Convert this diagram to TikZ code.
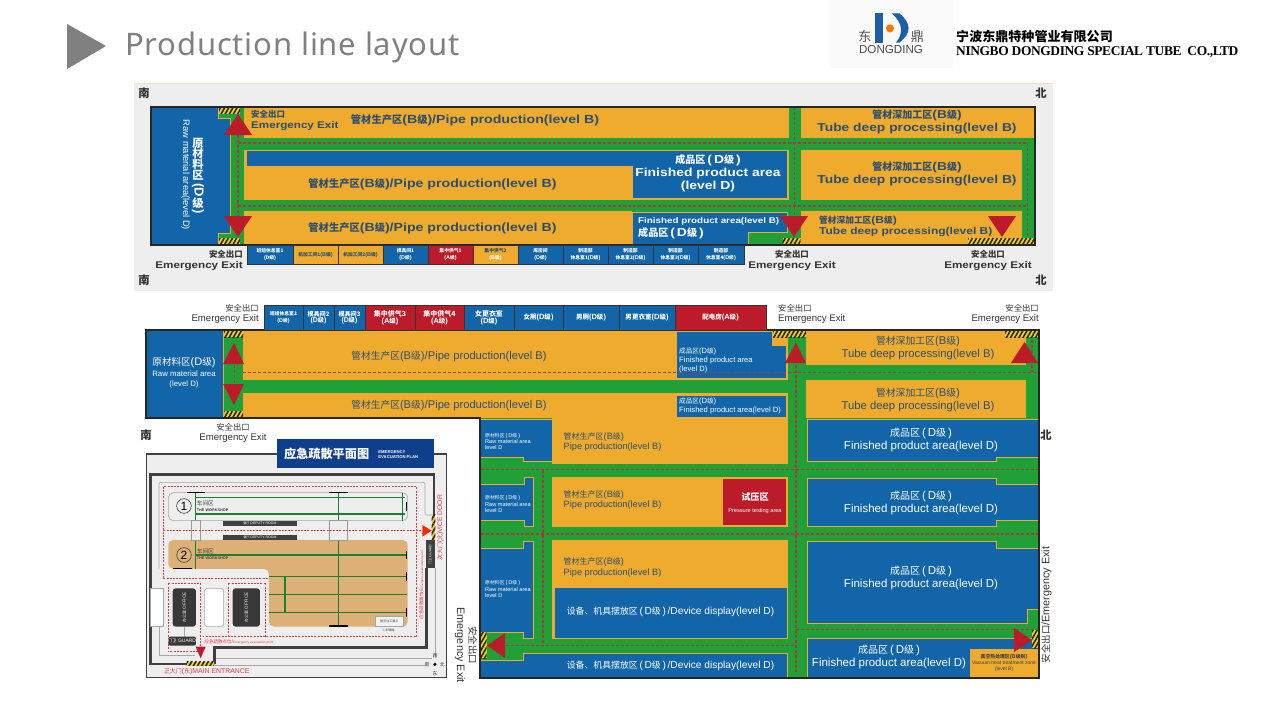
\documentclass[tikz,border=0pt]{standalone}
\usepackage{fontspec}
\usetikzlibrary{calc,patterns.meta}
\setmainfont{Liberation Sans}
\newfontfamily\cjk[Scale=0.87]{Noto Sans CJK SC}
\newfontfamily\widefont[FakeStretch=1.2]{Liberation Sans}
\newfontfamily\titlefont[LetterSpace=2.6]{Noto Sans}
\newfontfamily\coserif[LetterSpace=-3]{Liberation Serif}
\definecolor{zblue}{HTML}{1265A8}
\definecolor{zorange}{HTML}{EEAB2E}
\definecolor{zgreen}{HTML}{22A038}
\definecolor{zred}{HTML}{BC1C2A}
\definecolor{escred}{HTML}{B0343A}
\definecolor{panelgray}{HTML}{EEEEEE}
\definecolor{labeldark}{HTML}{2A4F72}
\definecolor{hazyellow}{HTML}{F2D21E}
\definecolor{planblue}{HTML}{0F3F8C}
\definecolor{plantan}{HTML}{DDB077}
\definecolor{planred}{HTML}{E0404A}
\definecolor{logoblue}{HTML}{1C5FA8}
\newcommand{\fs}[1]{\fontsize{#1}{1.12\dimexpr #1pt\relax}\selectfont}
\newcommand{\stackfont}{\setlength{\lineskiplimit}{-30pt}\fontsize{13}{10.6}\selectfont\bfseries}
\newcommand{\Zh}[1]{{\cjk #1}}
\newcommand{\PipeB}{\Zh{管材生产区}(B\Zh{级})/Pipe production(level B)}
\newcommand{\PipeTwo}{\Zh{管材生产区}(B\Zh{级})\\Pipe production(level B)}
\newcommand{\TubeB}{\Zh{管材深加工区}(B\Zh{级})\\Tube deep processing(level B)}
\newcommand{\ExitTxt}{\Zh{安全出口}\\Emergency Exit}
\newcommand{\FinD}{\Zh{成品区}\,(\,D\Zh{级}\,)\\Finished product area(level D)}
\newcommand{\RawS}{\Zh{原材料区}\,(\,D\Zh{级}\,)\\Raw material area\\level D}
\newcommand{\DevD}{\Zh{设备、机具摆放区}\,(\,D\Zh{级}\,)\,/Device display(level D)}
% room with its label
\newcommand{\Room}[5]{\draw[#4] (#2) rectangle (#3); \node[roomtxt] (#1) at ($(#2)!.5!(#3)$) {#5};}
\tikzset{
  zoneB/.style={fill=zorange},
  zoneD/.style={fill=zblue,draw=zorange,line width=0.9pt},
  roomD/.style={fill=zblue,draw=black!80,line width=0.8pt},
  roomB/.style={fill=zorange,draw=black!80,line width=0.8pt},
  roomA/.style={fill=zred,draw=black!80,line width=0.8pt},
  walk/.style={fill=zgreen},
  escape/.style={draw=escred,line width=1.2pt,dash pattern=on 3pt off 2pt},
  exittri/.style={fill=zred},
  hazard/.style={fill=hazyellow,postaction={pattern={Lines[angle=60,distance=3.6pt,line width=1.6pt]},pattern color=black!85}},
  frameline/.style={draw=black!85,line width=1.3pt},
  roomtxt/.style={inner sep=0,align=center,text=white,font=\fs{5.5}\bfseries},
  txtB/.style={inner sep=0,align=center,text=labeldark},
  txtD/.style={inner sep=0,align=center,text=white},
  txtK/.style={inner sep=0,align=center,text=black!80},
  planred txt/.style={inner sep=0,text=planred},
  wallk/.style={draw=black!75,line width=2.6pt},
  greenline/.style={draw=zgreen!80!black,line width=1.3pt},
  capk/.style={draw=black,line width=1.1pt},
  planroute/.style={draw=planred,line width=0.8pt,dash pattern=on 2pt off 1.2pt},
}
\begin{document}
\begin{tikzpicture}[x=1pt,y=-1pt]
  \useasboundingbox (0,0) rectangle (1280,720);
  % heading
  \fill[black!50] (67,24) -- (106,46) -- (67,69) -- cycle;
  \node[inner sep=0,anchor=west,text=black!50,font=\fs{31}\titlefont] (title) at (125,47) {Production line layout};
  \fill[black!2] (830,0) rectangle (953,68);
  \begin{scope}[shift={(820,0)},x=0.3333pt,y=-0.3333pt]
    \fill[logoblue] (165,40) rectangle (190,128);
    \fill[orange!90!red] (210,85) circle (12);
    \fill[logoblue] (215,40) -- (238,40) .. controls (275,70) and (275,100) .. (238,128) -- (228,128) .. controls (250,100) and (250,70) .. (215,40) -- cycle;
    \node[inner sep=0,text=black!70,font=\fs{15}] (logodong) at (135,110) {\Zh{东}};
    \node[inner sep=0,text=black!70,font=\fs{15}] (logoding) at (292,110) {\Zh{鼎}};
    \node[inner sep=0,text=black!70,font=\fs{11.6}] (logoname) at (213,150) {DONGDING};
  \end{scope}
  \node[inner sep=0,anchor=west,font=\fs{15}\bfseries] (cocn) at (956,36.5) {\Zh{宁波东鼎特种管业有限公司}};
  \node[inner sep=0,anchor=west,font=\fs{13.45}\bfseries\coserif] (coen) at (956,52.5) {NINGBO DONGDING SPECIAL TUBE\ \ CO.,LTD};

  % upper plan
  \fill[panelgray] (134,84) rectangle (1053,291);
  \draw[orange!25,line width=0.6pt] (134,83.5) -- (1053,83.5);
  \fill[walk] (151,107) rectangle (1035,245);
  \draw[zoneD] (151,107) -- (218,107) -- (218,118) -- (230.5,118) -- (230.5,233) -- (218,233) -- (218,245) -- (151,245) -- cycle;
  \fill[zoneB] (244,107) rectangle (789,137.5);
  \fill[zoneB] (244,149.5) rectangle (789,200);
  \fill[zoneB] (244,211) rectangle (632,245);
  \fill[zoneB] (801,107) rectangle (1035,137.5);
  \fill[zoneB] (801,149.5) rectangle (1022,200);
  \fill[zoneB] (801,211) rectangle (1022,245);
  \fill[walk] (789,107) rectangle (801,245);
  \draw[zoneD] (246,150) -- (787.5,150) -- (787.5,198.5) -- (632,198.5) -- (632,166) -- (246,166) -- cycle;
  \draw[zoneD] (632,212) -- (787.5,212) -- (787.5,232.5) -- (748,232.5) -- (748,245) -- (632,245) -- cycle;
  \draw[escape] (238,143) -- (1027,143);
  \draw[escape] (238,206) -- (1027,206);
  \draw[escape] (238,120) -- (238,235);
  \draw[escape] (794.5,107) -- (794.5,235);
  \draw[escape] (1027.5,143) -- (1027.5,240);
  \fill[hazard] (219,107) rectangle (240,113.5);
  \fill[hazard] (219,238) rectangle (240,245);
  \fill[hazard] (782.5,238) rectangle (800.5,245);
  \fill[hazard] (968,238) rectangle (1035,245);
  \fill[exittri] (238,114) -- (252,135) -- (224,135) -- cycle;
  \fill[exittri] (224,216) -- (252,216) -- (238,237) -- cycle;
  \fill[exittri] (780,216) -- (808,216) -- (794,237) -- cycle;
  \fill[exittri] (988,216) -- (1016,216) -- (1002,237) -- cycle;
  \draw[frameline] (151,107) rectangle (1035,245);
  \Room{ua}{247,245}{293,264}{roomD}{\Zh{班组休息室1}\\(\Zh{D级})}
  \Room{ub}{293,245}{338,264}{roomB}{\color{labeldark}\Zh{机加工间1}(B\Zh{级})}
  \Room{uc}{338,245}{383,264}{roomB}{\color{labeldark}\Zh{机加工间2}(B\Zh{级})}
  \Room{ud}{383,245}{428,264}{roomD}{\Zh{模具间1}\\(D\Zh{级})}
  \Room{ue}{428,245}{473,264}{roomA}{\Zh{集中供气1}\\(A\Zh{级})}
  \Room{uf}{473,245}{518,264}{roomB}{\color{labeldark}\Zh{集中供气2}\\(B\Zh{级})}
  \Room{ug}{518,245}{563,264}{roomD}{\Zh{库房间}\\(D\Zh{级})}
  \Room{uh}{563,245}{608,264}{roomD}{\Zh{制造部}\\\Zh{休息室1}(D\Zh{级})}
  \Room{ui}{608,245}{653,264}{roomD}{\Zh{制造部}\\\Zh{休息室2}(D\Zh{级})}
  \Room{uj}{653,245}{698,264}{roomD}{\Zh{制造部}\\\Zh{休息室3}(D\Zh{级})}
  \Room{uk}{698,245}{744,264}{roomD}{\Zh{制造部}\\\Zh{休息室4}(D\Zh{级})}
  \node[txtK,font=\fs{13}\bfseries] (us1) at (144,93) {\Zh{南}};
  \node[txtK,font=\fs{13}\bfseries] (us2) at (144,280) {\Zh{南}};
  \node[txtK,font=\fs{13}\bfseries] (un1) at (1041,93) {\Zh{北}};
  \node[txtK,font=\fs{13}\bfseries] (un2) at (1041,280) {\Zh{北}};
  \node[txtB,align=left,anchor=west,font=\fs{9.7}\widefont\bfseries] (ux1) at (251,120) {\ExitTxt};
  \node[txtK,align=right,anchor=east,font=\fs{9.7}\widefont\bfseries] (ux2) at (243,260) {\ExitTxt};
  \node[txtK,font=\fs{9.7}\widefont\bfseries] (ux3) at (792,260) {\ExitTxt};
  \node[txtK,font=\fs{9.7}\widefont\bfseries] (ux4) at (988,260) {\ExitTxt};
  \node[txtB,font=\fs{11.8}\widefont\bfseries] (up1) at (475,120.5) {\PipeB};
  \node[txtB,font=\fs{11.8}\widefont\bfseries] (up2) at (432.5,184.5) {\PipeB};
  \node[txtB,font=\fs{11.8}\widefont\bfseries] (up3) at (432.5,228.5) {\PipeB};
  \node[txtD,font=\fs{11.6}\widefont\bfseries] (uf1) at (708,173) {\Zh{成品区}\,(\,D\Zh{级}\,)\\Finished product area\\(level D)};
  \node[txtD,align=left,anchor=west,font=\fs{8.2}\widefont\bfseries] (uf2) at (638,221.5) {Finished product area(level B)};
  \node[txtD,align=left,anchor=west,font=\fs{11.6}\widefont\bfseries] (uf3) at (638,233) {\Zh{成品区}\,(\,D\Zh{级}\,)};
  \node[txtB,font=\fs{11.5}\widefont\bfseries] (ut1) at (917,122) {\TubeB};
  \node[txtB,font=\fs{11.5}\widefont\bfseries] (ut2) at (917,174) {\TubeB};
  \node[txtB,align=left,anchor=west,font=\fs{10}\widefont\bfseries] (ut3) at (819,226) {\Zh{管材深加工区}(B\Zh{级})\\Tube deep processing(level B)};
  \node[txtD,rotate=-90,font=\fs{9.3}] (ur1) at (185.5,175) {Raw material area(level D)};
  \node[txtD,font=\stackfont] (ur2) at (198,159) {\Zh{原}\\\Zh{材}\\\Zh{料}\\\Zh{区}};
  \node[txtD,rotate=-90,font=\stackfont] (ur3) at (198,190.5) {(D};
  \node[txtD,font=\stackfont] (ur4) at (198,203) {\Zh{级}};
  \node[txtD,rotate=-90,font=\stackfont] (ur5) at (198,211.5) {)};

  % lower plan
  \fill[walk] (146,330) -- (1039,330) -- (1039,678) -- (480,678) -- (480,418) -- (146,418) -- cycle;
  \draw[zoneD] (146,330) rectangle (223,418);
  \fill[zoneB] (243,331) rectangle (788,380);
  \fill[zoneB] (243,393) rectangle (788,418);
  \fill[zoneB] (552,418) rectangle (788,464);
  \fill[zoneB] (552,477) rectangle (788,527);
  \fill[zoneB] (552,540) rectangle (788,638.5);
  \draw[zoneD] (676,331) -- (772.5,331) -- (772.5,345) -- (786,345) -- (786,378) -- (676,378) -- cycle;
  \draw[zoneD] (676,395) rectangle (786,417);
  \fill[zoneB] (806,331) rectangle (1026,365);
  \fill[zoneB] (806,380) rectangle (1026,418);
  \draw[zoneD] (480,419.5) -- (552,419.5) -- (552,461) -- (523,461) -- (523,457) -- (480,457) -- cycle;
  \draw[zoneD] (480,484) -- (524,484) -- (524,477.5) -- (533.5,477.5) -- (533.5,526) -- (524,526) -- (524,520) -- (480,520) -- cycle;
  \draw[zoneD] (480,548) -- (523,548) -- (523,541.5) -- (533.5,541.5) -- (533.5,638) -- (523,638) -- (523,632) -- (480,632) -- cycle;
  \draw[zoneD] (480,660) -- (523,660) -- (523,653.5) -- (787,653.5) -- (787,678) -- (480,678) -- cycle;
  \fill[zred] (723,479) rectangle (786,525);
  \draw[zoneD] (554,587) rectangle (787,638);
  \draw[zoneD] (807,419) -- (1039,419) -- (1039,457) -- (996,457) -- (996,461) -- (807,461) -- cycle;
  \draw[zoneD] (807,478) -- (996,478) -- (996,484) -- (1039,484) -- (1039,520) -- (996,520) -- (996,526) -- (807,526) -- cycle;
  \draw[zoneD] (807,541) -- (996,541) -- (996,548) -- (1039,548) -- (1039,609) -- (1027,609) -- (1027,623) -- (807,623) -- cycle;
  \draw[zoneD] (807,638) -- (1039,638) -- (1039,678) -- (807,678) -- cycle;
  \fill[zoneB] (970,649) rectangle (1038,677);
  \draw[escape] (243,372.5) -- (1036,372.5);
  \draw[escape] (234.5,365) -- (234.5,385);
  \draw[escape] (796,365) -- (796,672);
  \draw[escape] (1032,340) -- (1032,372);
  \draw[escape] (481,469.5) -- (1038,469.5);
  \draw[escape] (481,534) -- (1038,534);
  \draw[escape] (543,469.5) -- (543,646);
  \draw[escape] (506,645.5) -- (796,645.5);
  \draw[escape] (796,629.5) -- (1036,629.5);
  \fill[hazard] (224,331) rectangle (243,337);
  \fill[hazard] (224,411) rectangle (243,417);
  \fill[hazard] (773,331) rectangle (806,337);
  \fill[hazard] (1005,331) rectangle (1038,337);
  \fill[hazard] (481,632) rectangle (486.5,658);
  \fill[hazard] (1032,630) rectangle (1038,648);
  \fill[exittri] (234,343) -- (244,364) -- (223,364) -- cycle;
  \fill[exittri] (223,384) -- (244,384) -- (234,405) -- cycle;
  \fill[exittri] (796,342.5) -- (806,363) -- (785,363) -- cycle;
  \fill[exittri] (1024.5,342) -- (1038,363) -- (1011,363) -- cycle;
  \fill[exittri] (487,645.5) -- (505,633) -- (505,658) -- cycle;
  \fill[exittri] (1032,640) -- (1014,628) -- (1014,652) -- cycle;
  \draw[frameline] (146,330) -- (1039,330) -- (1039,678) -- (480,678) -- (480,418) -- (146,418) -- cycle;
  \Room{la}{264,305}{303,330}{roomD}{\Zh{班组休息室2}\\(D\Zh{级})}
  \Room{lb}{303,305}{334,330}{roomD}{\fs{7}\Zh{模具间2}\\\fs{7}(D\Zh{级})}
  \Room{lc}{334,305}{365,330}{roomD}{\fs{7}\Zh{模具间3}\\\fs{7}(D\Zh{级})}
  \Room{ld}{365,305}{415,330}{roomA}{\fs{8}\Zh{集中供气3}\\\fs{7.5}(A\Zh{级})}
  \Room{le}{415,305}{464,330}{roomA}{\fs{8}\Zh{集中供气4}\\\fs{7.5}(A\Zh{级})}
  \Room{lf}{464,305}{514,330}{roomD}{\fs{8}\Zh{女更衣室}\\\fs{7.5}(D\Zh{级})}
  \Room{lg}{514,305}{563,330}{roomD}{\fs{7.5}\Zh{女厕}(D\Zh{级})}
  \Room{lh}{563,305}{619,330}{roomD}{\fs{7.5}\Zh{男厕}(D\Zh{级})}
  \Room{li}{619,305}{675,330}{roomD}{\fs{7.5}\Zh{男更衣室}(D\Zh{级})}
  \Room{lj}{675,305}{766,330}{roomA}{\fs{7.5}\Zh{配电房}(A\Zh{级})}
  \node[txtK,align=right,anchor=east,font=\fs{9.6}] (lx1) at (259,314) {\ExitTxt};
  \node[txtK,align=left,anchor=west,font=\fs{9.6}] (lx2) at (778,314) {\ExitTxt};
  \node[txtK,align=right,anchor=east,font=\fs{9.6}] (lx3) at (1039,314) {\ExitTxt};
  \node[txtB,font=\fs{11.2}] (lp1) at (449,357) {\PipeB};
  \node[txtB,font=\fs{11.2}] (lp2) at (449,406) {\PipeB};
  \node[txtB,font=\fs{11.3}] (lt1) at (918,348) {\TubeB};
  \node[txtB,font=\fs{11.3}] (lt2) at (918,400) {\TubeB};
  \node[txtD,font=\fs{9.5}] (lr1) at (184,373) {\fs{11}\Zh{原材料区}(D\Zh{级})\\\fs{7.8}Raw material area\\\fs{7.8}(level D)};
  \node[txtD,align=left,anchor=west,font=\fs{7.6}] (lf1) at (679,360.5) {\Zh{成品区}(D\Zh{级})\\Finished product area\\(level D)};
  \node[txtD,align=left,anchor=west,font=\fs{7.6}] (lf2) at (679,406) {\Zh{成品区}(D\Zh{级})\\Finished product area(level D)};
  \node[txtB,align=left,anchor=west,font=\fs{9.2}] (pa) at (563.5,442) {\PipeTwo};
  \node[txtB,align=left,anchor=west,font=\fs{9.2}] (pb) at (563.5,500) {\PipeTwo};
  \node[txtB,align=left,anchor=west,font=\fs{9.2}] (pc) at (563.5,567.5) {\PipeTwo};
  \node[txtD,align=left,anchor=west,font=\fs{5.6}] (ra) at (485,441.5) {\RawS};
  \node[txtD,align=left,anchor=west,font=\fs{5.6}] (rb) at (485,504) {\RawS};
  \node[txtD,align=left,anchor=west,font=\fs{5.6}] (rc) at (485,589) {\RawS};
  \node[txtD] (test) at (755,503) {\fs{10.5}\bfseries\Zh{试压区}\\\fs{5.6}\mdseries Pressure testing area};
  \node[txtD,font=\fs{10.2}] (da) at (670.5,611.5) {\DevD};
  \node[txtD,font=\fs{10.2}] (db) at (670.5,665.5) {\DevD};
  \node[txtD,font=\fs{11.5}] (fa) at (921,440) {\FinD};
  \node[txtD,font=\fs{11.5}] (fb) at (921,503) {\FinD};
  \node[txtD,font=\fs{11.5}] (fc) at (921,578) {\FinD};
  \node[txtD,font=\fs{11.5}] (fd) at (889,657) {\FinD};
  \node[txtB,text=black!75,font=\fs{5}] (vac) at (1004,663) {\fs{5.6}\bfseries\Zh{真空热处理区}(B\Zh{级别})\\Vacuum heat treatment zone\\(level B)};
  \node[txtK,font=\fs{13}\bfseries] (ln) at (1046,435) {\Zh{北}};
  \node[txtK,rotate=90,font=\fs{10.8}] (lx4) at (1046.5,605) {\Zh{安全出口}/Emergency Exit};

  % evacuation plan, in its own units
  \node[txtK,font=\fs{13}\bfseries] (ps) at (146,435) {\Zh{南}};
  \node[txtK,font=\fs{9.6}] (px1) at (233,433) {\ExitTxt};
  \node[txtK,rotate=-90,font=\fs{10.8}] (px2) at (466,645) {\Zh{安全出口}\\Emergency Exit};
  \begin{scope}[shift={(135,425)},x=0.3333pt,y=-0.3333pt]
    \draw[fill=panelgray,draw=black!75,line width=1.3pt] (35,87) rectangle (935,758);
    \fill[planblue] (425,43) rectangle (898,130);
    \node[inner sep=0,text=white,font=\fs{14}\bfseries] (plantitle) at (575,88) {\Zh{应急疏散平面图}};
    \node[inner sep=0,text=white,align=left,font=\fs{4.2}\bfseries] (plansub) at (790,88) {EMERGENCY\\EVACUATION PLAN};
    \draw[black!35,line width=0.6pt,rounded corners=2pt] (72,430) -- (72,172) -- (870,172) -- (870,270) -- (895,270);
    \draw[black!35,line width=0.6pt] (900,430) -- (900,700);
    \draw[black!35,line width=0.6pt] (72,490) -- (72,690) -- (180,690);
    \draw[black!35,line width=0.6pt] (240,700) -- (890,700);
    \draw[black!35,line width=0.6pt] (240,720) -- (870,720);
    \draw[black!35,line width=0.6pt] (147,605) -- (147,635);
    \draw[fill=panelgray,draw=black!35,line width=0.6pt,rounded corners=5pt] (100,203) rectangle (818,287);
    \draw[fill=plantan,draw=none,rounded corners=5pt] (100,345) -- (818,345) -- (818,605) -- (402,605) -- (402,432) -- (100,432) -- cycle;
    \draw[wallk] (155,717) -- (47,717) -- (47,148) -- (897,148) -- (897,270);
    \draw[wallk] (875,430) -- (875,668) -- (238,668) -- (238,717);
    \fill[hazard] (155,711) rectangle (238,723);
    \fill[hazard] (890,270) rectangle (901,345);
    \fill[black!75] (873,345) rectangle (900,430);
    \node[inner sep=0,rotate=90,text=white,font=\fs{3.5}] (vicebox) at (886,388) {\Zh{门卫} GUARD};
    % green aisles
    \draw[greenline] (182,218) -- (810,218);
    \draw[greenline] (182,267) -- (810,267);
    \draw[greenline] (182,203) -- (182,432);
    \draw[greenline] (610,203) -- (610,603);
    \draw[greenline] (803,203) -- (803,287);
    \draw[greenline] (182,390) -- (815,390);
    \draw[greenline] (402,455) -- (815,455);
    \draw[greenline] (402,508) -- (815,508);
    \draw[greenline] (402,562) -- (815,562);
    \draw[greenline] (450,455) -- (450,562);
    \draw[capk] (155,203) -- (210,203);
    \draw[capk] (583,203) -- (638,203);
    \draw[capk] (583,603) -- (638,603);
    \draw[capk] (113,430) -- (170,430);
    \draw[capk] (815,230) -- (815,257);
    \draw[capk] (815,377) -- (815,402);
    \draw[capk] (815,442) -- (815,468);
    \draw[capk] (815,548) -- (815,575);
    \draw[fill=panelgray,draw=black!40,line width=0.5pt] (170,287) rectangle (197,345);
    \draw[fill=panelgray,draw=black!40,line width=0.5pt] (583,287) rectangle (638,347);
    \fill[black!75] (264,288) rectangle (485,302);
    \fill[black!75] (264,330) rectangle (485,345);
    \node[inner sep=0,text=white,font=\fs{3.5}] (planroom1) at (375,295) {\Zh{餐厅} DEPUTY ROOM};
    \node[inner sep=0,text=white,font=\fs{3.5}] (planroom2) at (375,338) {\Zh{餐厅} DEPUTY ROOM};
    \draw[black!70,line width=0.7pt] (147,243) circle (22);
    \node[inner sep=0,font=\fs{12}] (no1) at (147,243) {1};
    \draw[black!70,line width=0.7pt] (147,390) circle (22);
    \node[inner sep=0,font=\fs{12}] (no2) at (147,390) {2};
    \node[inner sep=0,anchor=west,text=black!75,align=left,font=\fs{5}] (shop1) at (185,244) {\fs{6.5}\Zh{车间区}\\\fs{3.8}\bfseries THE WORKSHOP};
    \node[inner sep=0,anchor=west,text=black!75,align=left,font=\fs{5}] (shop2) at (185,388) {\fs{6.5}\Zh{车间区}\\\fs{3.8}\bfseries THE WORKSHOP};
    \draw[fill=black!5,draw=black!35,line width=0.5pt] (722,575) rectangle (805,603);
    \node[inner sep=0,text=black!70,font=\fs{3.5}] (tanbox) at (763,589) {\Zh{展览加工展示}};
    \node[inner sep=0,text=black!70,font=\fs{3.5}] (tanbox2) at (760,617) {\Zh{×车辆棚}};
    % route
    \draw[planroute] (85,460) -- (85,185) -- (845,185) -- (845,635) -- (205,635);
    \draw[planroute] (85,317) -- (860,317);
    \draw[planroute] (85,460) -- (400,460);
    \draw[planroute] (100,475) -- (100,680) -- (197,680);
    \draw[planroute] (197,475) -- (197,665);
    \draw[planroute] (280,475) -- (280,635);
    \draw[planroute] (390,475) -- (390,635);
    \draw[planroute] (280,475) -- (390,475);
    \draw[planroute] (100,475) -- (197,475);
    \fill[orange!30!red] (862,300) -- (890,317) -- (862,335) -- cycle;
    \fill[zred] (182,665) -- (212,665) -- (197,700) -- cycle;
    % buildings
    \draw[fill=white,draw=black!35,line width=0.6pt] (45,490) rectangle (85,605);
    \fill[black!78,rounded corners=3pt] (113,490) rectangle (183,605);
    \draw[fill=white,draw=black!35,line width=0.6pt,rounded corners=3pt] (208,490) rectangle (266,605);
    \fill[black!78,rounded corners=3pt] (293,490) rectangle (375,605);
    \fill[black!78,rounded corners=2pt] (100,635) rectangle (183,662);
    \node[inner sep=0,rotate=90,text=white,font=\fs{4.5}] (office1) at (148,547) {\Zh{办公室} OFFICE};
    \node[inner sep=0,rotate=90,text=white,font=\fs{4.5}] (office2) at (334,547) {\Zh{办公室} OFFICE};
    \node[inner sep=0,text=white,font=\fs{5}] (guard) at (141,649) {\Zh{门卫} GUARD};
    \node[planred txt,anchor=west,font=\fs{5.2}] (assem) at (208,652) {\Zh{应急疏散点位}/\fs{3.2}Emergency evacuation point};
    \node[planred txt,font=\fs{6.9}] (mainent) at (215,740) {\Zh{正大门}(\Zh{东})MAIN ENTRANCE};
    \node[planred txt,rotate=90,font=\fs{6.7}] (vice) at (916,308) {\Zh{次大门}(\Zh{北})VICE DOOR};
    \node[planred txt,rotate=90,font=\fs{5.2}] (route) at (860,480) {\Zh{应急疏散路线}/\fs{3.2}Emergency evacuation path};
    % compass
    \fill[black] (900,718) circle (5);
    \node[txtK,font=\fs{5.5}] (cs) at (876,718) {\Zh{南}};
    \node[txtK,font=\fs{5.5}] (cn) at (922,718) {\Zh{北}};
    \node[txtK,font=\fs{5.5}] (cw) at (900,693) {\Zh{西}};
    \node[txtK,font=\fs{5.5}] (ce) at (900,745) {\Zh{东}};
  \end{scope}
\end{tikzpicture}
\end{document}
